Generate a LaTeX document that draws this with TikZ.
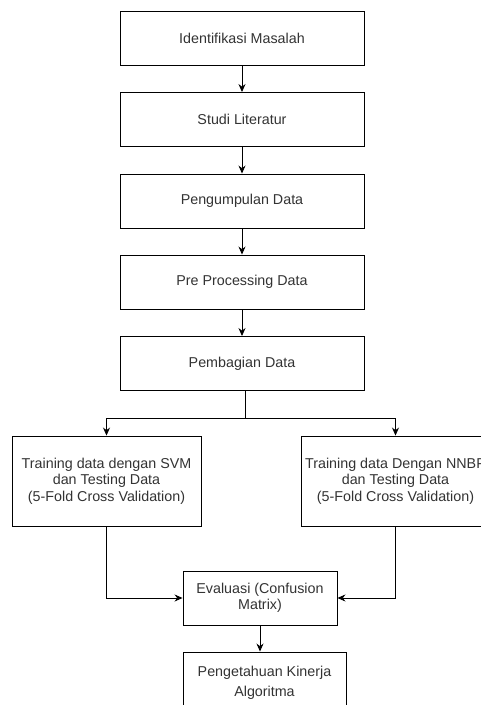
\documentclass[tikz,border=0pt]{standalone}
\usepackage{fontspec}
\setmainfont{Liberation Sans}
\usetikzlibrary{arrows.meta}
\definecolor{txt}{HTML}{333333}
\begin{document}
\begin{tikzpicture}[x=1pt,y=-1pt,
  box/.style={draw=black, line width=0.9pt, fill=white, text=txt, align=center,
    inner sep=0pt, font=\fontsize{14.3}{16.5}\selectfont},
  topbox/.style={box, minimum width=244pt, minimum height=54pt},
  sidebox/.style={box, minimum width=189pt, minimum height=90pt},
  conn/.style={draw=black, line width=0.9pt, -{Stealth[length=8pt,width=7pt]}},
  line/.style={draw=black, line width=0.9pt}]
\useasboundingbox (0,0) rectangle (481,705);
\begin{scope}
\clip (0,0) rectangle (481,705);
\node[topbox] (a) at (242,38.5) {Identifikasi Masalah};
\node[topbox] (b) at (242,119.5) {Studi Literatur};
\node[topbox] (c) at (242,201) {Pengumpulan Data};
\node[topbox] (d) at (242,282) {Pre Processing Data};
\node[topbox] (e) at (242,363.5) {Pembagian Data};
\node[sidebox] (svm) at (106.5,481) {Training data dengan SVM\\dan Testing Data\\(5-Fold Cross Validation)};
\node[sidebox] (nnbp) at (395.5,481) {Training data Dengan NNBP\\dan Testing Data\\(5-Fold Cross Validation)};
\node[box, minimum width=154pt, minimum height=54pt] (ev) at (260,598) {Evaluasi (Confusion\\Matrix)};
\node[box, minimum width=163pt, minimum height=64pt, text depth=0pt] (pk) at (264.5,684) {};
\node[text=txt, align=center, font=\fontsize{14.3}{19.5}\selectfont] (pkt) at (264.5,683) {Pengetahuan Kinerja\\Algoritma};
\coordinate (split) at (245,418);
\draw[conn] (a) -- (b);
\draw[conn] (b) -- (c);
\draw[conn] (c) -- (d);
\draw[conn] (d) -- (e);
\draw[line] (e.south -| split) -- (split);
\draw[conn] (split) -| (svm.north);
\draw[conn] (split) -| (nnbp.north);
\draw[conn] (svm.south) |- (ev.west);
\draw[conn] (nnbp.south) |- (ev.east);
\draw[conn] (ev.south) -- (ev.south |- pk.north);
\end{scope}
\end{tikzpicture}
\end{document}
